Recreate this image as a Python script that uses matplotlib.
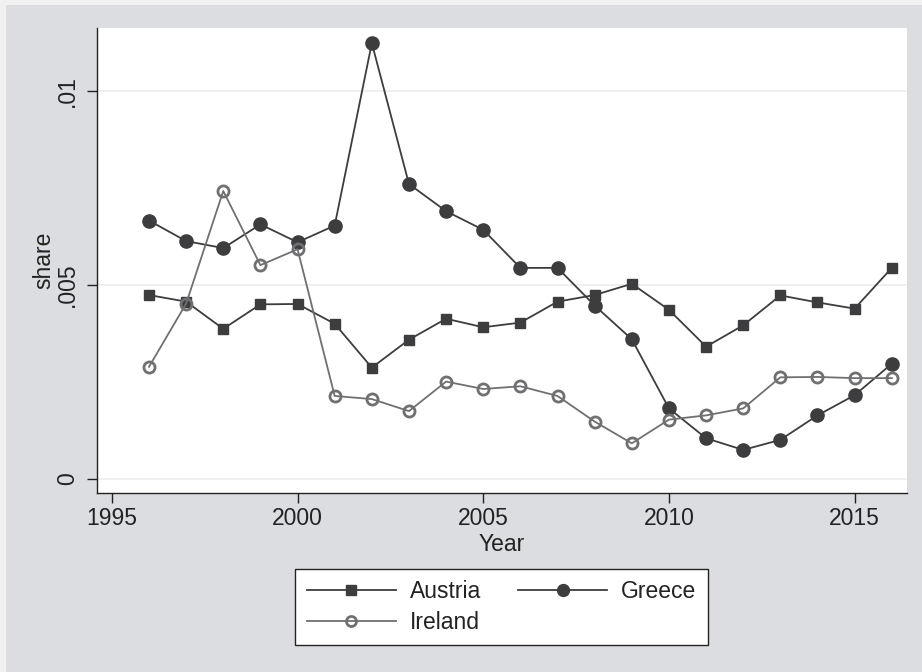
import numpy as np
import matplotlib
matplotlib.use('Agg')
import matplotlib.pyplot as plt
from matplotlib.patches import Rectangle

plt.rcParams['font.family'] = ['Liberation Sans', 'DejaVu Sans']

# yearly shares by country
years = np.arange(1996, 2017)
austria = [0.00474, 0.00457, 0.00387, 0.00450, 0.00451, 0.00400, 0.00287,
           0.00359, 0.00413, 0.00391, 0.00403, 0.00457, 0.00474, 0.00503,
           0.00436, 0.00341, 0.00396, 0.00473, 0.00455, 0.00439, 0.00544]
greece = [0.00666, 0.00613, 0.00595, 0.00656, 0.00610, 0.00653, 0.01123,
          0.00760, 0.00690, 0.00642, 0.00544, 0.00544, 0.00447, 0.00360,
          0.00182, 0.00105, 0.00075, 0.00101, 0.00164, 0.00216, 0.00297]
ireland = [0.00289, 0.00452, 0.00742, 0.00551, 0.00592, 0.00214, 0.00206,
           0.00175, 0.00251, 0.00232, 0.00239, 0.00214, 0.00148, 0.00092,
           0.00153, 0.00164, 0.00182, 0.00262, 0.00263, 0.00260, 0.00260]

yticks = [0, 0.005, 0.01]
yticklabels = ['0', '.005', '.01']
xticks = [1995, 2000, 2005, 2010, 2015]

W, H = 922, 672
fig = plt.figure(figsize=(W / 100., H / 100.), dpi=100, facecolor='#f1f1f1')
# grey graph region, drawn behind the plot area
fig.patches.append(Rectangle((6. / W, 0), 916. / W, 667. / H, transform=fig.transFigure,
                             facecolor='#dcdde0', edgecolor='none', zorder=-10))

ax = fig.add_axes([97. / W, 1 - 493. / H, 810. / W, 465. / H])
ax.set_facecolor('white')

dark = '#3d3d3f'
light = '#707072'
ax.plot(years, austria, color=dark, lw=1.3, marker='s', ms=7.5, mec=dark, mfc=dark,
        label='Austria', zorder=3)
ax.plot(years, greece, color=dark, lw=1.3, marker='o', ms=9.5, mec=dark, mfc=dark,
        label='Greece', zorder=3)
ax.plot(years, ireland, color=light, lw=1.3, marker='o', ms=8, mec=light, mfc='none',
        mew=2.0, label='Ireland', zorder=3)

ax.set_xlim(1994.6, 2016.41)
ax.set_ylim(-0.00036, 0.01162)
ax.set_yticks(yticks)
ax.set_yticklabels(yticklabels, rotation=90, va='center')
ax.set_xticks(xticks)
ax.yaxis.grid(True, color='#ececec', lw=1.2)
ax.set_axisbelow(True)

for s in ['top', 'right']:
    ax.spines[s].set_visible(False)
for s in ['left', 'bottom']:
    ax.spines[s].set_color('#222222')
    ax.spines[s].set_linewidth(1.0)

ax.tick_params(axis='both', labelsize=16.5, colors='#222222', width=1.0, length=7)
ax.tick_params(axis='x', pad=3)
ax.tick_params(axis='y', pad=6)

ax.set_xlabel('Year', fontsize=16.5, color='#222222', labelpad=2)
ax.set_ylabel('share', fontsize=16.5, color='#222222')
ax.yaxis.set_label_coords(-0.052, 0.5)

handles, labels = ax.get_legend_handles_labels()
order = [0, 2, 1]
leg = fig.legend([handles[i] for i in order], [labels[i] for i in order],
                 loc='center', bbox_to_anchor=(501.5 / W, 1 - 607. / H), ncol=2,
                 fontsize=16.5, handlelength=3.9, handletextpad=0.6, columnspacing=1.6,
                 fancybox=False, framealpha=1, edgecolor='#222222', borderpad=0.5,
                 labelspacing=0.35, markerscale=0.9)
leg.get_frame().set_linewidth(1.0)
for t in leg.get_texts():
    t.set_color('#222222')

fig.savefig('out.png', dpi=100, facecolor=fig.get_facecolor())
